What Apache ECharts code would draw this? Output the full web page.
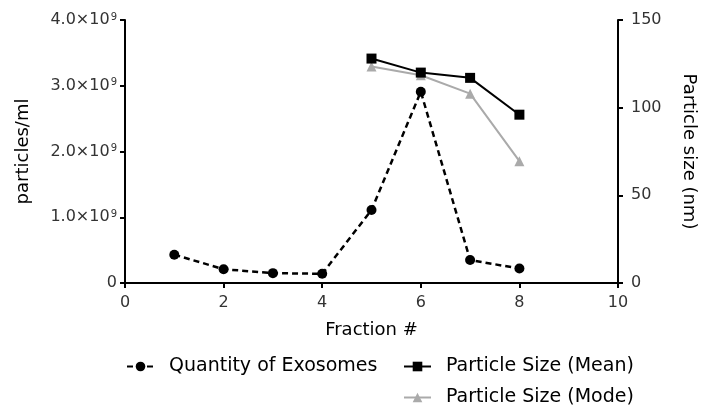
<!DOCTYPE html>
<html>
<head>
<meta charset="utf-8">
<script src="https://cdn.jsdelivr.net/npm/echarts@6/dist/echarts.min.js"></script>
<style>
  html, body { margin: 0; padding: 0; background: #fff; }
  #chart { width: 701px; height: 405px; }
</style>
</head>
<body>
<div id="chart"></div>
<script>
// Fraction numbers along the x axis
const fractions = [1, 2, 3, 4, 5, 6, 7, 8];
// Exosome count per fraction (particles/ml)
const quantity = [0.43e9, 0.21e9, 0.15e9, 0.14e9, 1.11e9, 2.91e9, 0.35e9, 0.22e9];
// Particle size (nm), only measured for fractions 5-8
const sizeFractions = [5, 6, 7, 8];
const meanSize = [128, 120, 117, 96];
const modeSize = [123.5, 118.5, 108, 69.5];

const xTicks = { min: 0, max: 10, interval: 2 };
const leftTicks = { min: 0, max: 4e9, interval: 1e9 };
const rightTicks = { min: 0, max: 150, interval: 50 };

const FONT = 'DejaVu Sans';
const TEXT = '#333';

function pairs(xs, ys) { return xs.map((x, i) => [x, ys[i]]); }

const axisCommon = {
  axisLine: { show: true, onZero: false, lineStyle: { color: '#000', width: 2 } },
  axisTick: { show: true, length: 5, lineStyle: { color: '#000', width: 2 } },
  splitLine: { show: false },
};

const legendText = { fontFamily: FONT, fontSize: 19, color: '#000', padding: [0, 0, 0, 10] };

const chart = echarts.init(document.getElementById('chart'));
chart.setOption({
  animation: false,
  backgroundColor: '#fff',
  grid: { left: 125, right: 83, top: 20, bottom: 122, containLabel: false, outerBoundsMode: 'none' },
  xAxis: Object.assign({}, axisCommon, {
    type: 'value', min: xTicks.min, max: xTicks.max, interval: xTicks.interval,
    name: 'Fraction #', nameLocation: 'middle', nameGap: 38,
    nameTextStyle: { fontFamily: FONT, fontSize: 18, color: '#000' },
    axisLabel: { margin: 12, fontFamily: FONT, fontSize: 16, color: TEXT },
  }),
  yAxis: [
    Object.assign({}, axisCommon, {
      type: 'value', position: 'left',
      min: leftTicks.min, max: leftTicks.max, interval: leftTicks.interval,
      name: 'particles/ml', nameLocation: 'middle', nameGap: 93, nameRotate: 90,
      nameTextStyle: { fontFamily: FONT, fontSize: 18, color: '#000' },
      axisLabel: {
        margin: 8, fontFamily: FONT, fontSize: 16, color: TEXT,
        formatter: v => v === 0 ? '0' : '{a|' + (v / 1e9).toFixed(1) + '×10}{s|9}',
        rich: {
          a: { fontFamily: FONT, fontSize: 16, color: TEXT },
          s: { fontFamily: FONT, fontSize: 10, color: TEXT, verticalAlign: 'top', padding: [0, 0, 6, 1] },
        },
      },
    }),
    Object.assign({}, axisCommon, {
      type: 'value', position: 'right',
      min: rightTicks.min, max: rightTicks.max, interval: rightTicks.interval,
      name: 'Particle size (nm)', nameLocation: 'middle', nameGap: 62, nameRotate: -90,
      nameTextStyle: { fontFamily: FONT, fontSize: 18, color: '#000' },
      axisLabel: { margin: 13, fontFamily: FONT, fontSize: 16, color: TEXT },
    }),
  ],
  legend: [
    { data: ['Quantity of Exosomes'], left: 121, top: 352, itemWidth: 27, itemHeight: 12, textStyle: legendText },
    { data: ['Particle Size (Mean)'], left: 398, top: 352, itemWidth: 27, itemHeight: 12, textStyle: legendText },
    { data: ['Particle Size (Mode)'], left: 398, top: 383, itemWidth: 27, itemHeight: 12, textStyle: legendText },
  ],
  series: [
    {
      name: 'Quantity of Exosomes', type: 'line', yAxisIndex: 0,
      data: pairs(fractions, quantity),
      symbol: 'circle', symbolSize: 10,
      itemStyle: { color: '#000' },
      lineStyle: { color: '#000', width: 2.5, type: [6, 4] },
      z: 2,
    },
    {
      name: 'Particle Size (Mode)', type: 'line', yAxisIndex: 1,
      data: pairs(sizeFractions, modeSize),
      symbol: 'triangle', symbolSize: 10,
      itemStyle: { color: '#aaaaaa' },
      lineStyle: { color: '#aaaaaa', width: 2 },
      z: 3,
    },
    {
      name: 'Particle Size (Mean)', type: 'line', yAxisIndex: 1,
      data: pairs(sizeFractions, meanSize),
      symbol: 'rect', symbolSize: 10,
      itemStyle: { color: '#000' },
      lineStyle: { color: '#000', width: 2 },
      z: 4,
    },
  ],
});
</script>
</body>
</html>
